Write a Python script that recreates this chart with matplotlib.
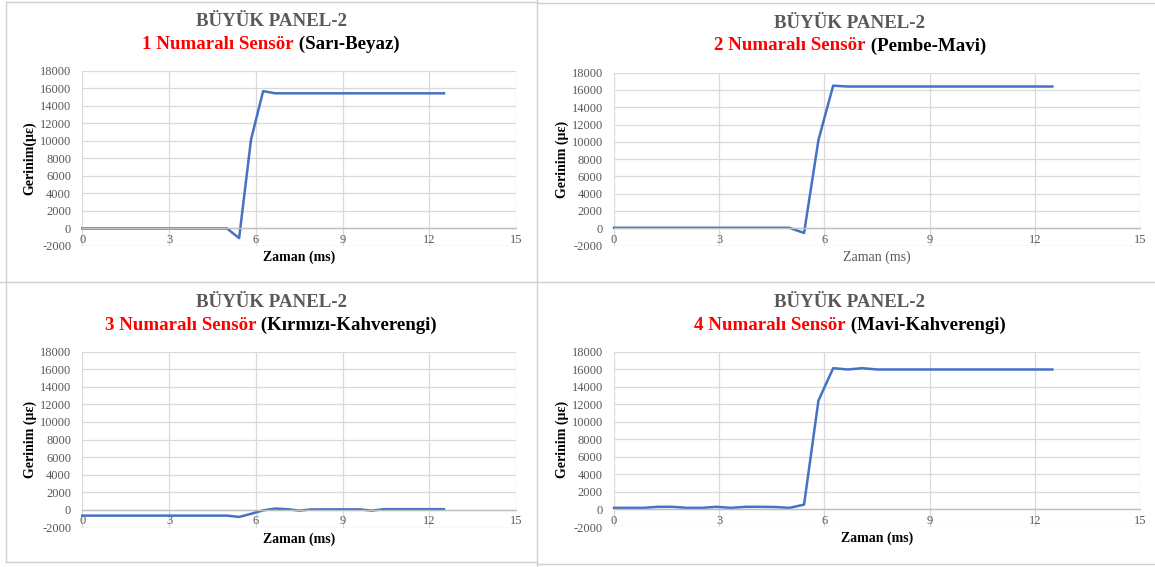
import numpy as np
import matplotlib
matplotlib.use('Agg')
import matplotlib.pyplot as plt
from matplotlib.lines import Line2D

plt.rcParams['font.family'] = ['Liberation Serif', 'DejaVu Serif']
plt.rcParams['axes.unicode_minus'] = False

# data
zaman = [0, 0.42, 0.83, 1.25, 1.67, 2.08, 2.5, 2.92, 3.33, 3.75, 4.17, 4.58, 5.0,
         5.42, 5.83, 6.25, 6.67, 7.08, 7.5, 7.92, 8.33, 8.75, 9.17, 9.58, 10.0,
         10.42, 10.83, 11.25, 11.67, 12.08, 12.5]

sensor1 = [0, 0, 0, 0, 0, 0, 0, 0, 0, 0, 0, 0, 0,
           -1100, 10100, 15650, 15400, 15400, 15400, 15400, 15400, 15400, 15400, 15400, 15400,
           15400, 15400, 15400, 15400, 15400, 15400]
sensor2 = [50, 50, 50, 50, 50, 50, 50, 50, 50, 50, 50, 50, 50,
           -550, 10200, 16500, 16400, 16400, 16400, 16400, 16400, 16400, 16400, 16400, 16400,
           16400, 16400, 16400, 16400, 16400, 16400]
sensor3 = [-650, -650, -650, -650, -650, -650, -650, -650, -650, -650, -650, -650, -650,
           -800, -450, -50, 150, 80, -80, 50, 60, 60, 60, 60, -80,
           80, 80, 80, 80, 80, 80]
sensor4 = [180, 180, 180, 300, 300, 180, 180, 300, 180, 300, 300, 280, 180,
           550, 12400, 16100, 15950, 16100, 15950, 15950, 15950, 15950, 15950, 15950, 15950,
           15950, 15950, 15950, 15950, 15950, 15950]

baslik = 'BÜYÜK PANEL-2'
sensor_adlari = ['1 Numaralı Sensör', '2 Numaralı Sensör', '3 Numaralı Sensör', '4 Numaralı Sensör']
renk_adlari = ['(Sarı-Beyaz)', '(Pembe-Mavi)', '(Kırmızı-Kahverengi)', '(Mavi-Kahverengi)']
ylabels = ['Gerinim(µε)', 'Gerinim (µε)', 'Gerinim (µε)', 'Gerinim (µε)']
xlabel = 'Zaman (ms)'
yticks = list(range(-2000, 18001, 2000))
xticks = [0, 3, 6, 9, 12, 15]

W, H = 1155, 567
fig = plt.figure(figsize=(W / 100, H / 100), dpi=100)
fig.patch.set_facecolor('white')

GRAY = '#595959'
GRID = '#D9D9D9'
BLUE = '#4472C4'


def fx(px):
    return px / W


def fy(py):
    return 1 - py / H


def border(x0, y0, x1, y1):
    fig.add_artist(Line2D([fx(x0), fx(x1)], [fy(y0), fy(y1)], color='#D0D0D0', lw=1.0))


# panel frames
border(5.5, 2, 537, 2)
border(5.5, 2, 5.5, 562)
border(5.5, 562, 537, 562)
border(537, 0, 537, 567)
border(0, 282, 1155, 282)
border(537, 3, 1155, 3)
border(537, 563.5, 1155, 563.5)

# panel layout in pixels: plot box, title centre, label positions
panels = [
    dict(box=(82.3, 70.5, 516.3, 246), tx=271, ty=(21.7, 44.3), ylx=30, xly=257.5, xl_bold=True),
    dict(box=(614, 72.7, 1140, 245.5), tx=850, ty=(23.3, 46), ylx=562, xly=257.5, xl_bold=False),
    dict(box=(82.3, 351.5, 516.3, 527.5), tx=271, ty=(302.7, 325), ylx=30, xly=539.3, xl_bold=True),
    dict(box=(614, 351.5, 1140, 527), tx=850, ty=(302.7, 325), ylx=562, xly=538.3, xl_bold=True),
]
series = [sensor1, sensor2, sensor3, sensor4]

renderer = fig.canvas.get_renderer()

for i, p in enumerate(panels):
    x0, y0, x1, y1 = p['box']
    ax = fig.add_axes([fx(x0), fy(y1), (x1 - x0) / W, (y1 - y0) / H])
    ax.set_facecolor('white')
    ax.set_xlim(0, 15)
    ax.set_ylim(-2000, 18000)
    ax.set_xticks(xticks)
    ax.set_yticks(yticks)
    ax.grid(True, color=GRID, lw=0.9)
    ax.set_axisbelow(True)
    for s in ['top', 'right', 'left']:
        ax.spines[s].set_visible(False)
    ax.spines['bottom'].set_position(('data', 0))
    ax.spines['bottom'].set_color('#BFBFBF')
    ax.spines['bottom'].set_linewidth(1.0)
    ax.tick_params(axis='both', length=0, labelsize=9, labelcolor=GRAY)
    ax.tick_params(axis='x', pad=4)
    ax.tick_params(axis='y', pad=8)
    ax.plot(zaman, series[i], color=BLUE, lw=1.8, clip_on=False)

    # titles
    fig.text(fx(p['tx']), fy(p['ty'][0]), baslik, ha='center', va='center',
             fontsize=13.6, fontweight='bold', color=GRAY)
    t_red = fig.text(0, fy(p['ty'][1]), sensor_adlari[i], ha='left', va='center',
                     fontsize=13.6, fontweight='bold', color='#FF0000')
    t_blk = fig.text(0, fy(p['ty'][1]), ' ' + renk_adlari[i], ha='left', va='center',
                     fontsize=13.6, fontweight='bold', color='black')
    w_red = t_red.get_window_extent(renderer).width
    w_blk = t_blk.get_window_extent(renderer).width
    start = p['tx'] - (w_red + w_blk) / 2
    t_red.set_x(fx(start))
    t_blk.set_x(fx(start + w_red))

    # axis labels
    fig.text(fx(p['ylx']), fy((y0 + y1) / 2), ylabels[i], rotation=90, ha='center', va='center',
             fontsize=10, fontweight='bold', color='black')
    if p['xl_bold']:
        fig.text(fx((x0 + x1) / 2), fy(p['xly']), xlabel, ha='center', va='center',
                 fontsize=10, fontweight='bold', color='black')
    else:
        fig.text(fx((x0 + x1) / 2), fy(p['xly']), xlabel, ha='center', va='center',
                 fontsize=10, color=GRAY)

fig.savefig('out.png', dpi=100, facecolor='white')
